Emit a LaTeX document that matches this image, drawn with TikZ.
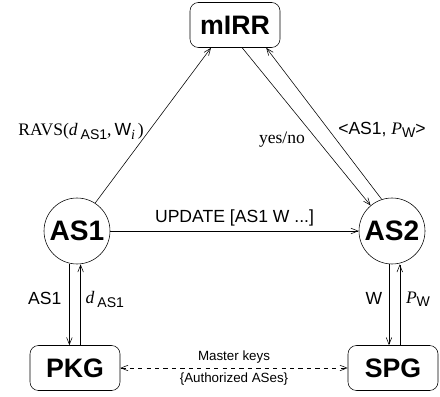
\documentclass[tikz,border=0pt]{standalone}
\usepackage{fontspec}
\setmainfont{Liberation Serif}
\setsansfont{Liberation Sans}
\usetikzlibrary{arrows.meta,calc}

\newcommand{\subsf}[1]{\raisebox{-0.45ex}{\sffamily\fontsize{10}{10}\selectfont #1}}

\begin{document}
\begin{tikzpicture}[
    >={Straight Barb[length=5pt,width=4pt]},
    server/.style={draw,rounded corners=6pt,minimum width=2.25cm,minimum height=1.125cm,
      inner sep=0pt,font=\sffamily\bfseries\fontsize{19}{19}\selectfont},
    asnode/.style={draw,circle,minimum size=1.65cm,inner sep=0pt,
      font=\sffamily\bfseries\fontsize{20}{20}\selectfont},
    msg/.style={font=\sffamily\fontsize{12.5}{13}\selectfont},
    tmsg/.style={font=\rmfamily\fontsize{12.5}{13}\selectfont},
    small/.style={font=\sffamily\fontsize{9.5}{10}\selectfont}]
  \useasboundingbox (0,0) rectangle (11,9.9);

  \node[server] (mirr) at (5.875,9.275) {mIRR};
  \node[asnode] (as1) at (1.925,4.125) {AS1};
  \node[asnode] (as2) at (9.8,4.125) {AS2};
  \node[server] (pkg) at (1.875,0.7) {PKG};
  \node[server] (spg) at (9.825,0.7) {SPG};

  % AS1 <-> mIRR <-> AS2
  \draw[->] (as1.57) -- ([xshift=-0.6cm]mirr.south);
  \draw[->] ([xshift=0.18cm]mirr.south) -- (as2.130);
  \draw[->] (as2.108) -- ([xshift=0.78cm]mirr.south);
  \draw[->] (as1) -- node[above,msg] {UPDATE [AS1 W ...]} (as2);

  % key generators
  \coordinate (k1) at ([xshift=-0.14cm]pkg.north);
  \coordinate (k2) at ([xshift=0.14cm]pkg.north);
  \coordinate (k3) at ([xshift=-0.1cm]spg.north);
  \coordinate (k4) at ([xshift=0.17cm]spg.north);
  \draw[->] (k1 |- as1.south) -- (k1);
  \draw[->] (k2) -- (k2 |- as1.south);
  \draw[->] (k3 |- as2.south) -- (k3);
  \draw[->] (k4) -- (k4 |- as2.south);
  \draw[<->,dashed] (pkg) -- node[above,small] {Master keys}
    node[below,small] {\{Authorized ASes\}} (spg);

  % labels
  \node[tmsg,anchor=east] (ravs) at (3.72,6.62)
    {RAVS(\textit{d}\,\subsf{AS1},\,{\sffamily W}\raisebox{-0.45ex}{\fontsize{10}{10}\selectfont\textit{i}}\,)};
  \node[tmsg] (yesno) at (7.05,6.4) {yes/no};
  \node[msg] (reply) at (9.55,6.65) {<AS1, \rmfamily\textit{P}\subsf{W}\sffamily>};
  \node[msg] (l1) at (1.12,2.45) {AS1};
  \node[tmsg] (l2) at (2.62,2.42) {\textit{d}\,\subsf{AS1}};
  \node[msg] (l3) at (9.35,2.45) {W};
  \node[tmsg] (l4) at (10.45,2.42) {\textit{P}\subsf{W}};
\end{tikzpicture}
\end{document}
